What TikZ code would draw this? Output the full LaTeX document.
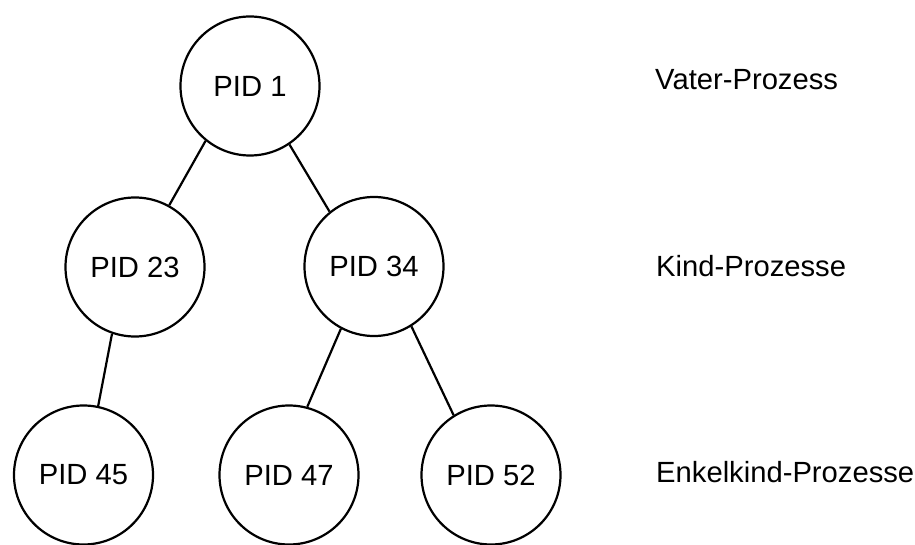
\documentclass[tikz,border=0pt]{standalone}
\usepackage{fontspec}
\setmainfont{Liberation Sans}
\begin{document}
\begin{tikzpicture}[x=1pt,y=-1pt,
  proc/.style={circle,draw=black,line width=2.2pt,minimum size=139pt,inner sep=0pt,font=\fontsize{29.2}{35}\selectfont},
  lvl/.style={anchor=base west,inner sep=0pt,font=\fontsize{29.2}{35}\selectfont},
  edge/.style={line width=2.2pt}]
\useasboundingbox (0,0) rectangle (915,545);
\node[proc] (p1) at (250,86) {PID 1};
\node[proc] (p23) at (135,267) {PID 23};
\node[proc] (p34) at (374,266.5) {PID 34};
\node[proc] (p45) at (83.5,475) {PID 45};
\node[proc] (p47) at (289,475) {PID 47};
\node[proc] (p52) at (491,475) {PID 52};
\node[lvl] (l1) at (655,89.3) {Vater-Prozess};
\node[lvl] (l2) at (656,276.7) {Kind-Prozesse};
\node[lvl] (l3) at (656,482.3) {Enkelkind-Prozesse};
\draw[edge] (p1.231) -- (p23.61);
\draw[edge] (p1.304) -- (p34.129);
\draw[edge] (p23.251) -- (p45.78);
\draw[edge] (p34.242) -- (p47.75);
\draw[edge] (p34.302) -- (p52.122);
\end{tikzpicture}
\end{document}
